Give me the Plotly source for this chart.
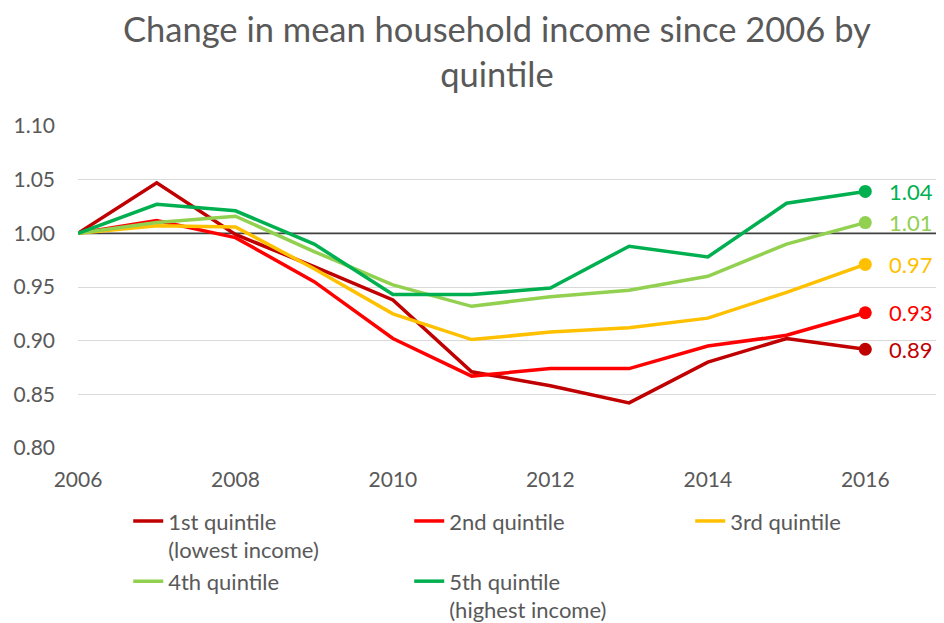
import plotly.graph_objects as go

years = list(range(2006, 2017))
series_names = ["1st quintile<br>(lowest income)", "2nd quintile", "3rd quintile",
                "4th quintile", "5th quintile<br>(highest income)"]
q1 = [1.000, 1.047, 0.999, 0.969, 0.938, 0.871, 0.858, 0.842, 0.880, 0.902, 0.892]
q2 = [1.000, 1.012, 0.996, 0.955, 0.902, 0.867, 0.874, 0.874, 0.895, 0.905, 0.926]
q3 = [1.000, 1.007, 1.006, 0.967, 0.925, 0.901, 0.908, 0.912, 0.921, 0.945, 0.971]
q4 = [1.000, 1.010, 1.016, 0.983, 0.952, 0.932, 0.941, 0.947, 0.960, 0.990, 1.010]
q5 = [1.000, 1.027, 1.021, 0.990, 0.943, 0.943, 0.949, 0.988, 0.978, 1.028, 1.039]
colors = ["#C00000", "#FF0000", "#FFC000", "#92D050", "#00B050"]
baseline = 1.0
x_range = [2006, 2017]
y_range = [0.80, 1.10]
x_ticks = [2006, 2008, 2010, 2012, 2014, 2016]
y_ticks = [0.80, 0.85, 0.90, 0.95, 1.00, 1.05, 1.10]
title_text = "Change in mean household income since 2006 by<br>quintile"

FONT = "Lato"
TXT = "#595959"

fig = go.Figure()
fig.add_trace(go.Scatter(x=x_range, y=[baseline, baseline], mode="lines",
                         line=dict(color="#404040", width=1.8), showlegend=False,
                         hoverinfo="skip"))

for name, vals, col in zip(series_names, [q1, q2, q3, q4, q5], colors):
    fig.add_trace(go.Scatter(x=years, y=vals, mode="lines", name=name,
                             line=dict(color=col, width=3.5)))
for name, vals, col in zip(series_names, [q1, q2, q3, q4, q5], colors):
    fig.add_trace(go.Scatter(x=[years[-1]], y=[vals[-1]], mode="markers",
                             marker=dict(color=col, size=13), showlegend=False,
                             hoverinfo="skip"))
    fig.add_annotation(x=years[-1], y=vals[-1], text=f"{vals[-1]:.2f}",
                       xanchor="left", yanchor="middle", xshift=22, showarrow=False,
                       font=dict(family=FONT, size=22, color=col))

fig.add_annotation(text=title_text, xref="paper", yref="paper",
                   x=(497 - 78) / 866, y=1.374, xanchor="center", yanchor="top",
                   showarrow=False, align="center",
                   font=dict(family=FONT, size=34.5, color=TXT))

fig.update_layout(
    width=936, height=615,
    margin=dict(l=70, r=0, t=118, b=175, autoexpand=False),
    paper_bgcolor="white", plot_bgcolor="white",
    showlegend=True,
    legend=dict(orientation="h", x=0.058, xanchor="left", y=-0.162, yanchor="top",
                entrywidth=236, entrywidthmode="pixels", valign="top",
                font=dict(family=FONT, size=22, color=TXT), traceorder="normal"),
)
fig.update_xaxes(range=x_range, tickvals=x_ticks, showgrid=False, zeroline=False,
                 showline=False, ticklabelstandoff=17,
                 tickfont=dict(family=FONT, size=21, color=TXT))
fig.update_yaxes(range=y_range, tickvals=y_ticks, tickformat=".2f",
                 showgrid=True, gridcolor="#D9D9D9", gridwidth=1.2, zeroline=False,
                 showline=False, ticklabelstandoff=22,
                 tickfont=dict(family=FONT, size=21, color=TXT))

fig.write_html("out.html")
